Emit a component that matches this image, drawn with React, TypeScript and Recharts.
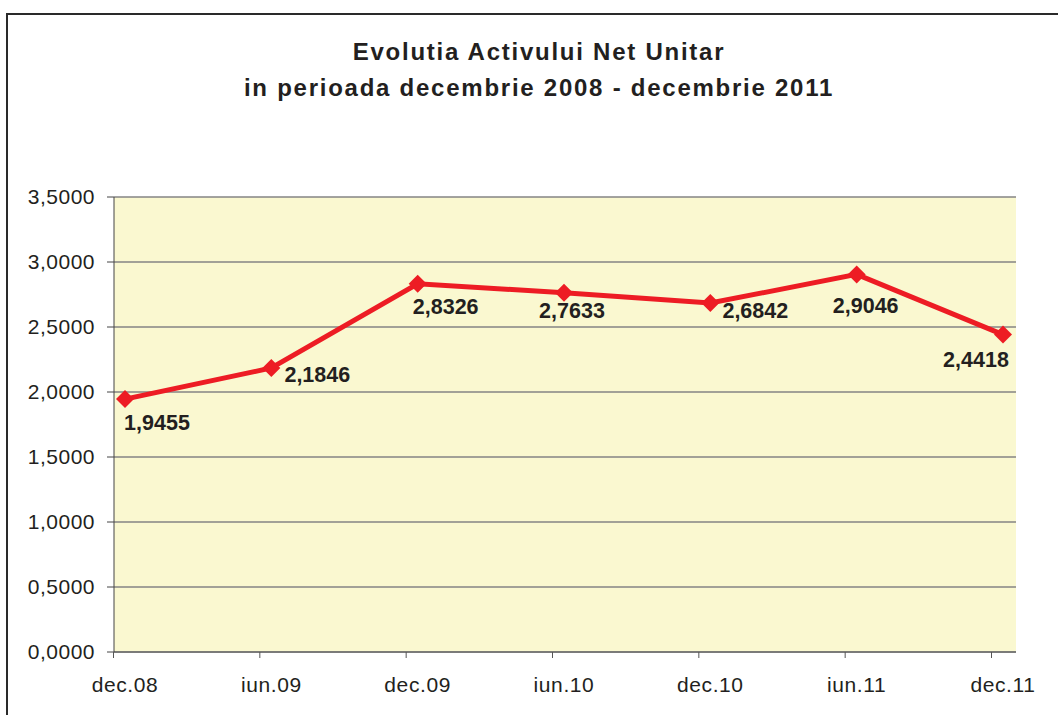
import React from 'react';
import { LineChart, Line, XAxis, YAxis, CartesianGrid, LabelList } from 'recharts';

const periods = ['dec.08', 'iun.09', 'dec.09', 'iun.10', 'dec.10', 'iun.11', 'dec.11'];
const navValues = [1.9455, 2.1846, 2.8326, 2.7633, 2.6842, 2.9046, 2.4418];
const yTicks = [0, 0.5, 1, 1.5, 2, 2.5, 3, 3.5];
const titleLines = ['Evolutia Activului Net Unitar', 'in perioada decembrie 2008 - decembrie 2011'];

// where each value label sits relative to its marker (dx, dy)
const labelOffsets = [[32, 24], [46, 7], [28, 23], [8, 18], [45, 8], [9, 32], [-27, 25]];

const FONT = '"Liberation Sans", Arial, Helvetica, sans-serif';
const RED = '#ED1C24';
const TEXT = '#231F20';
// in the original the tick marks sit a bit left of the points/labels
const TICK_SHIFT = 11.5;

const chartData = periods.map((p, i) => ({ period: p, value: navValues[i] }));

const fmt = (v: number) => v.toFixed(4).replace('.', ',');

const Diamond = (props: any) => {
    const { cx, cy } = props;
    if (cx == null || cy == null) return null;
    const r = 9;
    return (
        <polygon
            points={`${cx},${cy - r} ${cx + r},${cy} ${cx},${cy + r} ${cx - r},${cy}`}
            fill={RED}
        />
    );
};

const ValueLabel = (props: any) => {
    const { x, y, index, value } = props;
    const [dx, dy] = labelOffsets[index] || [0, 0];
    return (
        <text
            x={x + dx}
            y={y + dy}
            textAnchor="middle"
            dominantBaseline="central"
            fontFamily={FONT}
            fontWeight="bold"
            fontSize={21.5}
            fill={TEXT}
        >
            {fmt(Number(value))}
        </text>
    );
};

const PeriodTick = (props: any) => {
    const { x, y, payload } = props;
    const lx = x - TICK_SHIFT;
    return (
        <g>
            <line x1={lx} x2={lx} y1={y - 25} y2={y - 19} stroke="#555" strokeWidth={1} />
            <text
                x={x}
                y={y}
                dy="0.71em"
                textAnchor="middle"
                fontFamily={FONT}
                fontSize={21}
                letterSpacing={0.6}
                fill={TEXT}
            >
                {payload.value}
            </text>
        </g>
    );
};

export default function App() {
    return (
        <div style={{ position: 'absolute', left: 0, top: 0, width: 1058, height: 715, overflow: 'hidden', background: '#fff' }}>
            <div
                style={{
                    position: 'absolute',
                    left: 6,
                    top: 13,
                    width: 1200,
                    height: 900,
                    border: '2px solid #2a2a2a',
                }}
            />
            <div
                style={{
                    position: 'absolute',
                    left: 0,
                    top: 34,
                    width: 1078,
                    textAlign: 'center',
                    fontFamily: FONT,
                    fontWeight: 'bold',
                    fontSize: 24,
                    lineHeight: '36px',
                    letterSpacing: 1.75,
                    color: TEXT,
                }}
            >
                {titleLines.map((t) => (
                    <div key={t}>{t}</div>
                ))}
            </div>
            <div style={{ position: 'absolute', left: 0, top: 0 }}>
                <LineChart
                    width={1058}
                    height={715}
                    data={chartData}
                    margin={{ top: 197, right: 42, left: 24, bottom: 23 }}
                >
                    <CartesianGrid
                        vertical={false}
                        fill="#FAF8D0"
                        fillOpacity={1}
                        stroke="#858585"
                        strokeWidth={1.5}
                    />
                    <XAxis
                        dataKey="period"
                        padding={{ left: 11, right: 13 }}
                        height={40}
                        tickSize={0}
                        tickMargin={25}
                        tickLine={false}
                        stroke="#555"
                        tick={<PeriodTick />}
                        interval={0}
                    />
                    <YAxis
                        domain={[0, 3.5]}
                        ticks={yTicks}
                        width={90}
                        tickSize={7}
                        tickMargin={12}
                        stroke="#444"
                        tickFormatter={fmt}
                        tick={{ fill: TEXT, fontSize: 21, fontFamily: FONT, letterSpacing: 0.5 }}
                    />
                    <YAxis
                        yAxisId="frame"
                        orientation="right"
                        width={0}
                        tick={false}
                        tickLine={false}
                        domain={[0, 3.5]}
                        stroke="#9a9a9a"
                        strokeWidth={2}
                    />
                    <Line
                        type="linear"
                        dataKey="value"
                        stroke={RED}
                        strokeWidth={5}
                        dot={<Diamond />}
                        activeDot={false}
                        isAnimationActive={false}
                    >
                        <LabelList dataKey="value" content={<ValueLabel />} />
                    </Line>
                </LineChart>
            </div>
        </div>
    );
}
